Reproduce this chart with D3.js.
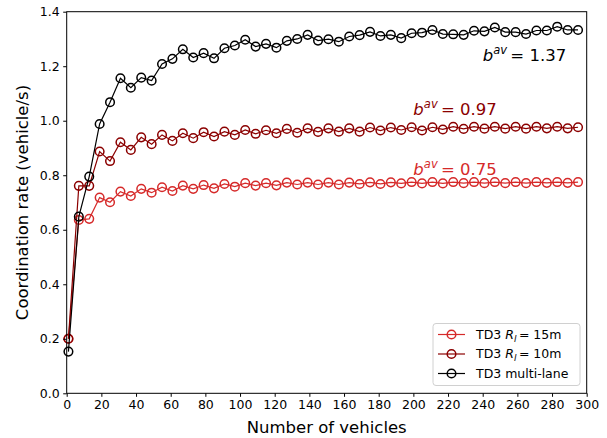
<!DOCTYPE html>
<html>
<head>
<meta charset="utf-8">
<script src="https://cdn.jsdelivr.net/npm/d3@7"></script>
<style>
  body { margin: 0; background: #fff; }
  text { font-family: "DejaVu Sans", sans-serif; }
</style>
</head>
<body>
<div id="chart"></div>
<script>
// x: number of vehicles, every 6 from 1 to 295
const vehicles = d3.range(1, 296, 6);

// TD3 R_l = 15m
const rate15 = [0.20, 0.636, 0.640, 0.718, 0.701, 0.740, 0.724, 0.750, 0.736, 0.756,
  0.742, 0.762, 0.750, 0.764, 0.752, 0.768, 0.758, 0.771, 0.762, 0.771,
  0.763, 0.773, 0.766, 0.773, 0.766, 0.773, 0.766, 0.773, 0.768, 0.774,
  0.768, 0.774, 0.770, 0.775, 0.770, 0.775, 0.770, 0.775, 0.771, 0.775,
  0.771, 0.775, 0.771, 0.775, 0.771, 0.775, 0.772, 0.775, 0.772, 0.775];

// TD3 R_l = 10m
const rate10 = [0.20, 0.761, 0.761, 0.887, 0.852, 0.921, 0.893, 0.939, 0.914, 0.948,
  0.926, 0.954, 0.936, 0.958, 0.942, 0.960, 0.948, 0.966, 0.952, 0.965,
  0.954, 0.970, 0.956, 0.972, 0.959, 0.972, 0.960, 0.972, 0.960, 0.975,
  0.964, 0.975, 0.966, 0.976, 0.964, 0.976, 0.968, 0.978, 0.970, 0.978,
  0.971, 0.978, 0.971, 0.978, 0.971, 0.978, 0.972, 0.978, 0.972, 0.976];

// TD3 multi-lane
const rateMulti = [0.153, 0.648, 0.795, 0.988, 1.068, 1.156, 1.121, 1.158, 1.147, 1.208,
  1.227, 1.262, 1.232, 1.248, 1.229, 1.266, 1.276, 1.297, 1.272, 1.282,
  1.268, 1.293, 1.300, 1.315, 1.294, 1.299, 1.290, 1.309, 1.314, 1.326,
  1.311, 1.315, 1.303, 1.321, 1.323, 1.333, 1.318, 1.317, 1.315, 1.330,
  1.328, 1.342, 1.325, 1.325, 1.318, 1.331, 1.331, 1.345, 1.333, 1.333];

const seriesNames = ["TD3 R_l = 15m", "TD3 R_l = 10m", "TD3 multi-lane"];
const seriesColors = ["#d62a2a", "#8b0000", "#000000"];
const averages = ["0.75", "0.97", "1.37"];
const averagePos = [[200, 0.80], [200, 1.02], [240, 1.22]];

const xTicks = d3.range(0, 301, 20);
const yTicks = d3.range(0, 1.41, 0.2);

const width = 607, height = 438;
const margin = { top: 11.7, right: 20.3, bottom: 44.7, left: 66.7 };

const svg = d3.select("#chart").append("svg")
  .attr("width", width)
  .attr("height", height);

const x = d3.scaleLinear().domain([0, 300]).range([margin.left, width - margin.right]);
const y = d3.scaleLinear().domain([0, 1.4]).range([height - margin.bottom, margin.top]);

// 数据线
const allSeries = [rate15, rate10, rateMulti];
const line = d3.line().x((d, i) => x(vehicles[i])).y(d => y(d));

allSeries.forEach((values, k) => {
  const g = svg.append("g");
  g.append("path")
    .datum(values)
    .attr("fill", "none")
    .attr("stroke", seriesColors[k])
    .attr("stroke-width", 1.2)
    .attr("d", line);
  g.selectAll("circle")
    .data(values)
    .join("circle")
    .attr("cx", (d, i) => x(vehicles[i]))
    .attr("cy", d => y(d))
    .attr("r", 4.3)
    .attr("fill", "none")
    .attr("stroke", seriesColors[k])
    .attr("stroke-width", 1.5);
});

// 坐标轴
const xAxis = svg.append("g")
  .attr("transform", `translate(0,${height - margin.bottom})`)
  .call(d3.axisBottom(x).tickValues(xTicks).tickSize(3.5).tickPadding(3.5).tickFormat(d3.format("d")));
const yAxis = svg.append("g")
  .attr("transform", `translate(${margin.left},0)`)
  .call(d3.axisLeft(y).tickValues(yTicks).tickSize(3.5).tickPadding(3.5).tickFormat(d3.format(".1f")));

[xAxis, yAxis].forEach(a => {
  a.select(".domain").remove();
  a.selectAll("text").attr("font-size", 12.5).attr("fill", "#000").attr("font-family", "DejaVu Sans");
  a.selectAll("line").attr("stroke", "#000");
});

// 边框
svg.append("rect")
  .attr("x", margin.left)
  .attr("y", margin.top)
  .attr("width", width - margin.left - margin.right)
  .attr("height", height - margin.top - margin.bottom)
  .attr("fill", "none")
  .attr("stroke", "#000")
  .attr("stroke-width", 1);

// 轴标题
svg.append("text")
  .attr("x", (margin.left + width - margin.right) / 2)
  .attr("y", 433)
  .attr("text-anchor", "middle")
  .attr("font-size", 16.5)
  .text("Number of vehicles");

svg.append("text")
  .attr("transform", `translate(28,${(margin.top + height - margin.bottom) / 2}) rotate(-90)`)
  .attr("text-anchor", "middle")
  .attr("font-size", 16.5)
  .text("Coordination rate (vehicle/s)");

// 平均值标注
averages.forEach((v, k) => {
  const t = svg.append("text")
    .attr("x", x(averagePos[k][0]))
    .attr("y", y(averagePos[k][1]))
    .attr("font-size", 16.5)
    .attr("fill", seriesColors[k]);
  t.append("tspan").attr("font-style", "italic").text("b");
  t.append("tspan").attr("font-style", "italic").attr("font-size", 11.5).attr("dy", -7).text("av");
  t.append("tspan").attr("dy", 7).text("\u2009= " + v);
});

// 图例
const legend = svg.append("g").attr("transform", "translate(433,323.5)");
legend.append("rect")
  .attr("width", 147)
  .attr("height", 62)
  .attr("rx", 3)
  .attr("fill", "#fff")
  .attr("fill-opacity", 0.8)
  .attr("stroke", "#d0d0d0");

seriesNames.forEach((name, k) => {
  const row = legend.append("g").attr("transform", `translate(0,${11 + k * 19.5})`);
  row.append("line")
    .attr("x1", 5).attr("x2", 32)
    .attr("stroke", seriesColors[k])
    .attr("stroke-width", 1.2);
  row.append("circle")
    .attr("cx", 18.5).attr("r", 4.3)
    .attr("fill", "none")
    .attr("stroke", seriesColors[k])
    .attr("stroke-width", 1.5);
  const t = row.append("text")
    .attr("x", 43)
    .attr("dy", "0.35em")
    .attr("font-size", 12.5);
  if (name.includes("R_l")) {
    const parts = name.split(" R_l = ");
    t.append("tspan").text(parts[0] + " ");
    t.append("tspan").attr("font-style", "italic").text("R");
    t.append("tspan").attr("font-style", "italic").attr("font-size", 9).attr("dy", 3).text("l");
    t.append("tspan").attr("dy", -3).text("\u2009= " + parts[1]);
  } else {
    t.text(name);
  }
});
</script>
</body>
</html>
